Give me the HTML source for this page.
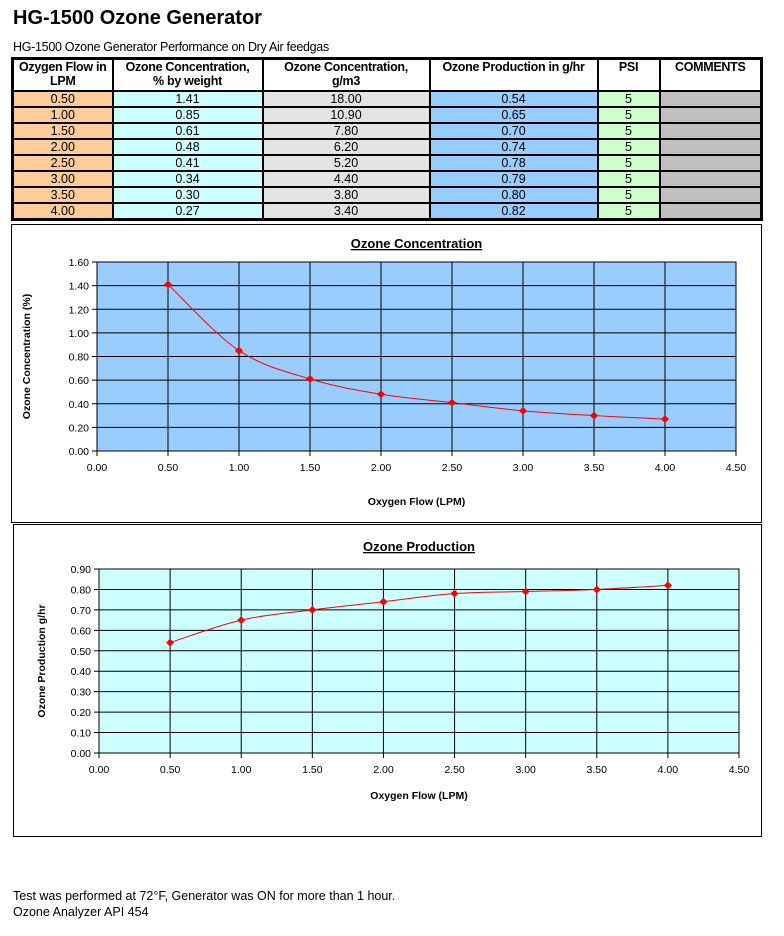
<!DOCTYPE html>
<html><head><meta charset="utf-8"><style>
body{margin:0;width:784px;height:936px;background:#fff;font-family:"Liberation Sans",Arial,sans-serif;position:relative;overflow:hidden}
.t{position:absolute;left:13px;top:7px;font-size:20px;font-weight:bold}
.s{position:absolute;left:13px;top:40px;font-size:12.5px;letter-spacing:-0.3px}
table{position:absolute;left:11px;top:57px;border-collapse:collapse;border:3px solid #000;font-size:12.5px;table-layout:fixed;width:749px}
td{border:2px solid #000;padding:0;text-align:center;height:14px;line-height:14px}
th{border:2px solid #000;padding:0;font-size:12.5px;vertical-align:top;line-height:14px;height:30px;letter-spacing:-0.3px;white-space:nowrap}
.c1{background:#ffcc99}.c2{background:#ccffff}.c3{background:#e3e3e3}.c4{background:#99ccff}.c5{background:#ccffcc}.c6{background:#c0c0c0}
.f{position:absolute;left:13px;top:888px;font-size:12.5px;line-height:16px}
svg{position:absolute;left:0;top:0}
</style></head><body>
<div class="t">HG-1500 Ozone Generator</div>
<div class="s">HG-1500 Ozone Generator Performance on Dry Air feedgas</div>
<table>
<colgroup><col style="width:100px"><col style="width:150px"><col style="width:167px"><col style="width:168px"><col style="width:62px"><col style="width:102px"></colgroup>
<tr><th>Ozygen Flow in<br>LPM</th><th>Ozone Concentration,<br>% by weight</th><th>Ozone Concentration,<br>g/m3</th><th>Ozone Production in g/hr</th><th>PSI</th><th>COMMENTS</th></tr>
<tr><td class="c1">0.50</td><td class="c2">1.41</td><td class="c3">18.00</td><td class="c4">0.54</td><td class="c5">5</td><td class="c6"></td></tr>
<tr><td class="c1">1.00</td><td class="c2">0.85</td><td class="c3">10.90</td><td class="c4">0.65</td><td class="c5">5</td><td class="c6"></td></tr>
<tr><td class="c1">1.50</td><td class="c2">0.61</td><td class="c3">7.80</td><td class="c4">0.70</td><td class="c5">5</td><td class="c6"></td></tr>
<tr><td class="c1">2.00</td><td class="c2">0.48</td><td class="c3">6.20</td><td class="c4">0.74</td><td class="c5">5</td><td class="c6"></td></tr>
<tr><td class="c1">2.50</td><td class="c2">0.41</td><td class="c3">5.20</td><td class="c4">0.78</td><td class="c5">5</td><td class="c6"></td></tr>
<tr><td class="c1">3.00</td><td class="c2">0.34</td><td class="c3">4.40</td><td class="c4">0.79</td><td class="c5">5</td><td class="c6"></td></tr>
<tr><td class="c1">3.50</td><td class="c2">0.30</td><td class="c3">3.80</td><td class="c4">0.80</td><td class="c5">5</td><td class="c6"></td></tr>
<tr><td class="c1">4.00</td><td class="c2">0.27</td><td class="c3">3.40</td><td class="c4">0.82</td><td class="c5">5</td><td class="c6"></td></tr>
</table>
<svg id="g" width="784" height="936" xmlns="http://www.w3.org/2000/svg" font-family="Liberation Sans, Arial, sans-serif"></svg>
<div class="f">Test was performed at 72°F, Generator was ON for more than 1 hour.<br>Ozone Analyzer API 454</div>
<script>
var s='';
function chart(o){
 s+='<rect x="'+o.fx+'" y="'+o.fy+'" width="'+o.fw+'" height="'+o.fh+'" fill="#fff" stroke="#000" stroke-width="1"/>';
 var x0=o.x0,x1=o.x1,y0=o.y0,y1=o.y1;
 s+='<rect x="'+x0+'" y="'+y1+'" width="'+(x1-x0)+'" height="'+(y0-y1)+'" fill="'+o.bg+'" stroke="#000"/>';
 for(var i=0;i<=o.ny;i++){var y=y0-(y0-y1)*i/o.ny;
  s+='<line x1="'+(x0-5)+'" x2="'+x1+'" y1="'+y+'" y2="'+y+'" stroke="#000"/>';
  s+='<text x="'+(x0-8)+'" y="'+(y+4)+'" font-size="10.5" text-anchor="end">'+(o.ymax*i/o.ny).toFixed(2)+'</text>';}
 for(var i=0;i<=9;i++){var x=x0+(x1-x0)*i/9;
  s+='<line x1="'+x+'" x2="'+x+'" y1="'+y1+'" y2="'+(y0+5)+'" stroke="#000"/>';
  s+='<text x="'+x+'" y="'+(y0+20)+'" font-size="10.5" text-anchor="middle">'+(0.5*i).toFixed(2)+'</text>';}
 var pts=o.d.map(function(v,i){return [x0+(x1-x0)*(0.5*(i+1))/4.5, y0-(y0-y1)*v/o.ymax];});
 var p='M'+pts[0][0]+' '+pts[0][1];
 for(var i=0;i<pts.length-1;i++){var a=pts[i-1]||pts[i],b=pts[i],c=pts[i+1],d=pts[i+2]||c;
  p+=' C'+(b[0]+(c[0]-a[0])/6)+' '+(b[1]+(c[1]-a[1])/6)+' '+(c[0]-(d[0]-b[0])/6)+' '+(c[1]-(d[1]-b[1])/6)+' '+c[0]+' '+c[1];}
 s+='<path d="'+p+'" fill="none" stroke="#f00" stroke-width="1"/>';
 pts.forEach(function(q){s+='<path d="M'+q[0]+' '+(q[1]-4)+' L'+(q[0]+4)+' '+q[1]+' L'+q[0]+' '+(q[1]+4)+' L'+(q[0]-4)+' '+q[1]+'Z" fill="#f00"/>';});
 s+='<text x="'+((x0+x1)/2)+'" y="'+o.ty+'" font-size="13" font-weight="bold" text-anchor="middle" text-decoration="underline">'+o.title+'</text>';
 s+='<text x="'+((x0+x1)/2)+'" y="'+o.xly+'" font-size="10.5" font-weight="bold" text-anchor="middle">Oxygen Flow (LPM)</text>';
 var cy=(y0+y1)/2;
 s+='<text transform="translate('+o.ylx+' '+cy+') rotate(-90)" font-size="10.5" font-weight="bold" text-anchor="middle">'+o.yl+'</text>';
}
chart({fx:11.5,fy:224.5,fw:750,fh:298,x0:97,x1:736,y0:451,y1:262,ny:8,ymax:1.6,bg:"#99ccff",
 d:[1.41,0.85,0.61,0.48,0.41,0.34,0.30,0.27],title:"Ozone Concentration",ty:248,xly:505,ylx:30,yl:"Ozone Concentration (%)"});
chart({fx:13.5,fy:524.5,fw:748,fh:312,x0:99,x1:739,y0:753,y1:569,ny:9,ymax:0.9,bg:"#ccffff",
 d:[0.54,0.65,0.70,0.74,0.78,0.79,0.80,0.82],title:"Ozone Production",ty:551,xly:799,ylx:45,yl:"Ozone Production g/hr"});
document.getElementById('g').innerHTML=s;
</script>
</body></html>
